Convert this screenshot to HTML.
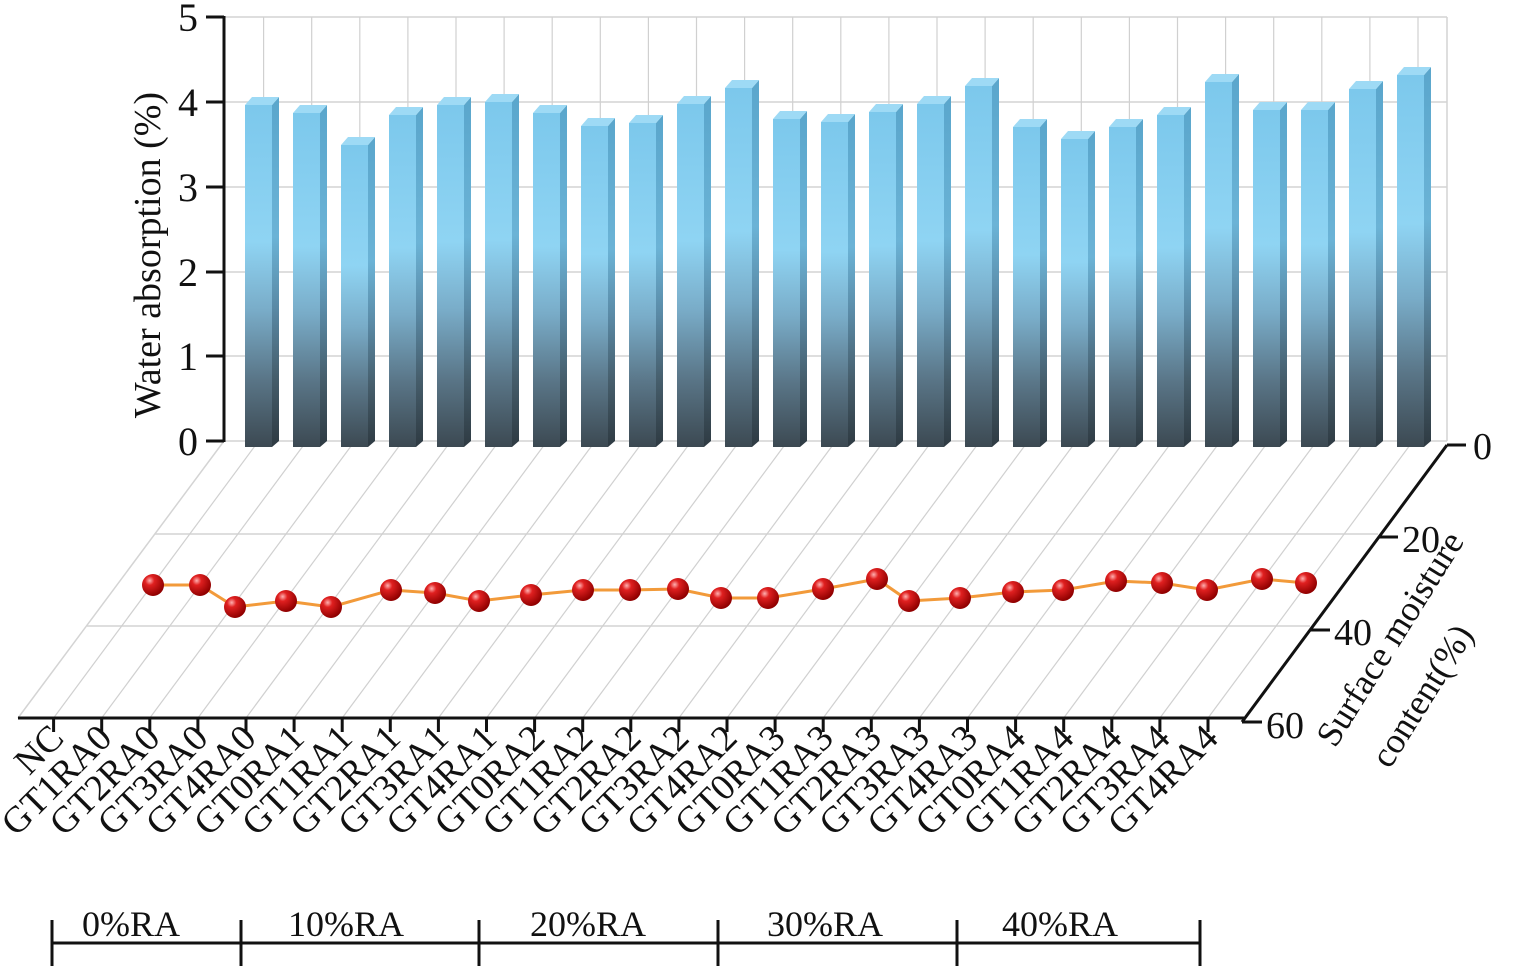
<!DOCTYPE html>
<html><head><meta charset="utf-8"><style>
html,body{margin:0;padding:0;background:#fff}
svg{display:block;font-family:"Liberation Serif",serif}
</style></head><body>
<svg width="1526" height="968" viewBox="0 0 1526 968" xmlns="http://www.w3.org/2000/svg">
<defs>
<linearGradient id="gf" x1="0" y1="0" x2="0" y2="1">
<stop offset="0" stop-color="#7cc8ec"/><stop offset="0.4" stop-color="#8fd4f3"/><stop offset="0.6" stop-color="#79acc8"/><stop offset="0.8" stop-color="#5a7688"/><stop offset="1" stop-color="#3c4952"/>
</linearGradient>
<linearGradient id="gs" x1="0" y1="0" x2="0" y2="1">
<stop offset="0" stop-color="#5aa6cc"/><stop offset="0.4" stop-color="#6bb3d6"/><stop offset="0.6" stop-color="#5a8aa6"/><stop offset="0.8" stop-color="#465e6c"/><stop offset="1" stop-color="#2e3a42"/>
</linearGradient>
<radialGradient id="rb" cx="0.35" cy="0.3" r="0.7">
<stop offset="0" stop-color="#ffb0b0"/><stop offset="0.3" stop-color="#e02020"/><stop offset="1" stop-color="#900000"/>
</radialGradient>
</defs>
<g stroke="#d4d4d4" stroke-width="1.5" fill="none">
<line x1="224" y1="17" x2="1447" y2="17"/>
<line x1="224" y1="102" x2="1447" y2="102"/>
<line x1="224" y1="187" x2="1447" y2="187"/>
<line x1="224" y1="272" x2="1447" y2="272"/>
<line x1="224" y1="356" x2="1447" y2="356"/>
<line x1="224" y1="441" x2="1447" y2="441"/>
<line x1="1447" y1="17" x2="1447" y2="441"/>
<line x1="18" y1="718" x2="224" y2="441"/>
<line x1="155" y1="534" x2="1378" y2="534"/>
<line x1="87" y1="626" x2="1310" y2="626"/>
</g>
<g id="grid" stroke="#d0d0d0" stroke-width="1.2"></g>
<g id="bars"></g>
<polyline id="ln" fill="none" stroke="#f29a3a" stroke-width="3"/>
<g id="dots"></g>
<g stroke="#111" stroke-width="3" fill="none">
<line x1="224" y1="16" x2="224" y2="442"/>
<line x1="206" y1="17" x2="224" y2="17"/>
<line x1="206" y1="102" x2="224" y2="102"/>
<line x1="206" y1="187" x2="224" y2="187"/>
<line x1="206" y1="272" x2="224" y2="272"/>
<line x1="206" y1="356" x2="224" y2="356"/>
<line x1="206" y1="441" x2="224" y2="441"/>
<line x1="18" y1="718" x2="1244" y2="718"/>
<line x1="1447" y1="445" x2="1242" y2="722"/>
<line x1="1447" y1="445" x2="1466" y2="445"/>
<line x1="1379" y1="537" x2="1398" y2="537"/>
<line x1="1310" y1="630" x2="1330" y2="630"/>
<line x1="1242" y1="722" x2="1262" y2="722"/>
<line x1="52" y1="943" x2="1200" y2="943"/>
<line x1="52" y1="920" x2="52" y2="966"/>
<line x1="241" y1="920" x2="241" y2="966"/>
<line x1="479" y1="920" x2="479" y2="966"/>
<line x1="718" y1="920" x2="718" y2="966"/>
<line x1="957" y1="920" x2="957" y2="966"/>
<line x1="1200" y1="920" x2="1200" y2="966"/>
</g>
<g id="ticks" stroke="#111" stroke-width="3"></g>
<g font-size="40" fill="#111" text-anchor="end">
<text x="198" y="31">5</text><text x="198" y="116">4</text><text x="198" y="201">3</text>
<text x="198" y="286">2</text><text x="198" y="370">1</text><text x="198" y="455">0</text>
</g>
<text transform="translate(160,255) rotate(-90)" font-size="38" text-anchor="middle" fill="#111">Water absorption (%)</text>
<g font-size="38" fill="#111">
<text x="1473" y="459">0</text><text x="1402" y="552">20</text><text x="1334" y="645">40</text><text x="1266" y="738">60</text>
</g>
<text transform="translate(1400,645) rotate(-58)" font-size="36" text-anchor="middle" fill="#111">Surface moisture</text>
<text transform="translate(1432,702) rotate(-58)" font-size="36" text-anchor="middle" fill="#111">content(%)</text>
<g id="labels" font-size="37" fill="#111" text-anchor="end"></g>
<g font-size="36" fill="#111" text-anchor="middle">
<text x="131" y="936">0%RA</text><text x="346" y="936">10%RA</text><text x="588" y="936">20%RA</text><text x="825" y="936">30%RA</text><text x="1060" y="936">40%RA</text>
</g>
</svg>
<script>
var ns="http://www.w3.org/2000/svg";
function el(t,a,p){var e=document.createElementNS(ns,t);for(var k in a)e.setAttribute(k,a[k]);document.getElementById(p).appendChild(e);return e;}
var labs=["NC","GT1RA0","GT2RA0","GT3RA0","GT4RA0","GT0RA1","GT1RA1","GT2RA1","GT3RA1","GT4RA1","GT0RA2","GT1RA2","GT2RA2","GT3RA2","GT4RA2","GT0RA3","GT1RA3","GT2RA3","GT3RA3","GT4RA3","GT0RA4","GT1RA4","GT2RA4","GT3RA4","GT4RA4"];
var tops=[105,113,145,115,105,102,113,126,123,104,88,119,122,112,104,86,127,139,127,115,82,110,110,89,75];
var dx=[153,200,235,286,331,391,435,479,531,583,630,678,721,768,823,877,909,960,1013,1063,1116,1162,1207,1262,1306];
var dy=[585,585,607,601,607,590,593,601,595,590,590,589,598,598,589,579,601,598,592,590,581,583,590,579,583];
for(var i=0;i<25;i++){
 var fx=53.6+48.1*i;
 el("line",{x1:fx,y1:718,x2:fx+205,y2:441},"grid");
 el("line",{x1:fx+210,y1:17,x2:fx+210,y2:441},"grid");
 el("line",{x1:fx,y1:718,x2:fx,y2:732},"ticks");
 el("text",{transform:"translate("+(fx+12)+",740) rotate(-45)"},"labels").textContent=labs[i];
 var bx=245+48*i,t=tops[i],w=27,s=7,b=447;
 el("rect",{x:bx,y:t,width:w,height:b-t,fill:"url(#gf)"},"bars");
 el("polygon",{points:(bx+w)+","+t+" "+(bx+w+s)+","+(t-8)+" "+(bx+w+s)+","+(b-6)+" "+(bx+w)+","+b,fill:"url(#gs)"},"bars");
 el("polygon",{points:bx+","+t+" "+(bx+s)+","+(t-8)+" "+(bx+w+s)+","+(t-8)+" "+(bx+w)+","+t,fill:"#9edaf5"},"bars");
}
var pts=[];for(var i=0;i<25;i++){pts.push(dx[i]+","+dy[i]);el("circle",{cx:dx[i],cy:dy[i],r:11,fill:"url(#rb)"},"dots");}
document.getElementById("ln").setAttribute("points",pts.join(" "));
</script>
</body></html>
